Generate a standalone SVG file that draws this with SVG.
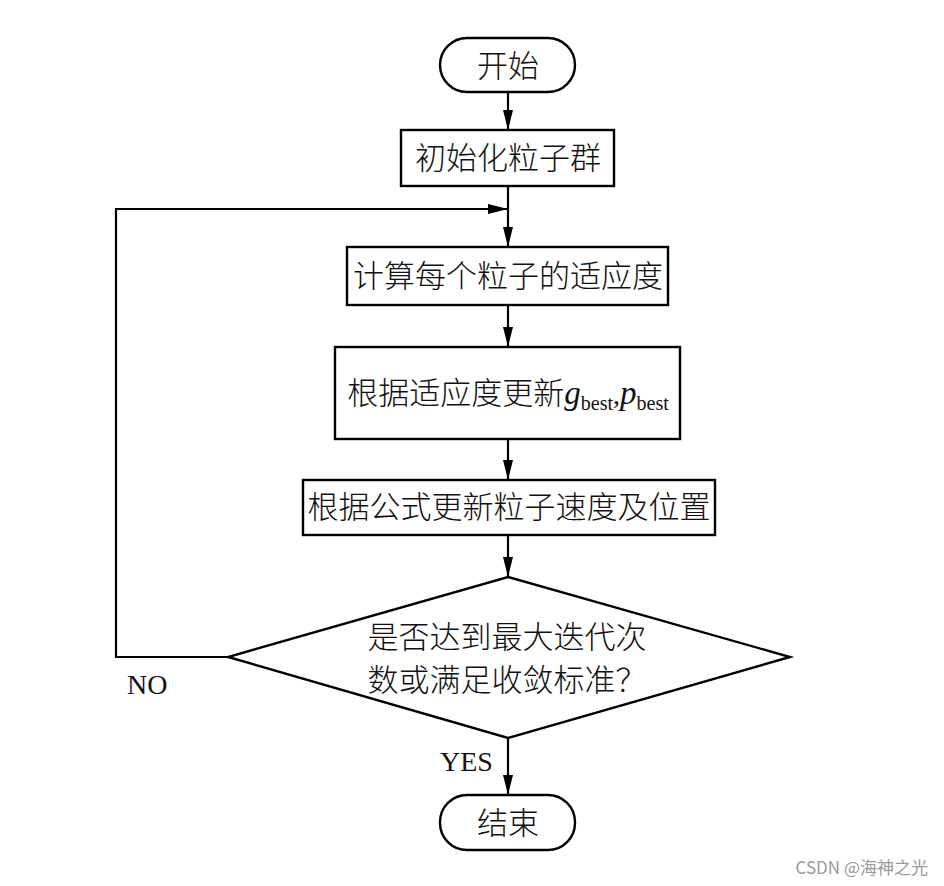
<svg xmlns="http://www.w3.org/2000/svg" width="944" height="886" viewBox="0 0 944 886">
<defs>
<marker id="arr" viewBox="0 0 20 10" refX="20" refY="5" markerWidth="20" markerHeight="10" markerUnits="userSpaceOnUse" orient="auto">
<path d="M0,0 L20,5 L0,10 z" fill="#000"/>
</marker>
<style>
.box{fill:#fff;stroke:#000;stroke-width:2.4}
.ln{fill:none;stroke:#000;stroke-width:2.2}
.cj{font-family:"Noto Sans CJK SC","Noto Sans",sans-serif;font-size:31px;font-weight:300;fill:#111;text-anchor:middle}
.lat{font-family:"Liberation Serif",serif;font-size:28px;fill:#111}
</style>
</defs>
<rect width="944" height="886" fill="#fff"/>
<g id="connectors">
<line class="ln" x1="508" y1="92" x2="508" y2="130" marker-end="url(#arr)"/>
<line class="ln" x1="508" y1="186" x2="508" y2="247" marker-end="url(#arr)"/>
<polyline class="ln" points="228,657 116,657 116,209 508,209" marker-end="url(#arr)"/>
<line class="ln" x1="508" y1="305" x2="508" y2="347" marker-end="url(#arr)"/>
<line class="ln" x1="508" y1="439" x2="508" y2="480" marker-end="url(#arr)"/>
<line class="ln" x1="508" y1="535" x2="508" y2="577" marker-end="url(#arr)"/>
<line class="ln" x1="508" y1="738" x2="508" y2="795" marker-end="url(#arr)"/>
<text class="lat" x="127" y="694">NO</text>
<text class="lat" x="440" y="771">YES</text>
</g>
<g id="start">
<rect class="box" x="440" y="38" width="135" height="54" rx="27"/>
<text class="cj" x="508" y="77">开始</text>
</g>
<g id="init">
<rect class="box" x="401" y="130" width="213" height="56"/>
<text class="cj" x="508" y="169">初始化粒子群</text>
</g>
<g id="fitness">
<rect class="box" x="347" y="247" width="321" height="58"/>
<text class="cj" x="508" y="287">计算每个粒子的适应度</text>
</g>
<g id="update-best">
<rect class="box" x="335" y="347" width="345" height="92"/>
<text class="cj" x="508" y="404"><tspan>根据适应度更新</tspan><tspan font-family="Liberation Serif" font-style="italic" font-weight="400" font-size="33">g</tspan><tspan font-family="Liberation Serif" font-weight="400" font-size="20" dy="6">best</tspan><tspan font-family="Liberation Serif" font-weight="400" font-size="28" dy="-6">,</tspan><tspan font-family="Liberation Serif" font-style="italic" font-weight="400" font-size="33">p</tspan><tspan font-family="Liberation Serif" font-weight="400" font-size="20" dy="6">best</tspan></text>
</g>
<g id="update-pos">
<rect class="box" x="303" y="480" width="412" height="55"/>
<text class="cj" x="509" y="518">根据公式更新粒子速度及位置</text>
</g>
<g id="decision">
<polygon class="box" points="508,577 790,657 508,738 228,657"/>
<text class="cj" x="507" y="648">是否达到最大迭代次</text>
<text class="cj" x="507" y="691">数或满足收敛标准？</text>
</g>
<g id="end">
<rect class="box" x="440" y="795" width="135" height="55" rx="27"/>
<text class="cj" x="508" y="834">结束</text>
</g>
<text x="928" y="874" text-anchor="end" font-family="'Noto Sans CJK SC',sans-serif" font-size="17" fill="#999">CSDN @海神之光</text>
</svg>
